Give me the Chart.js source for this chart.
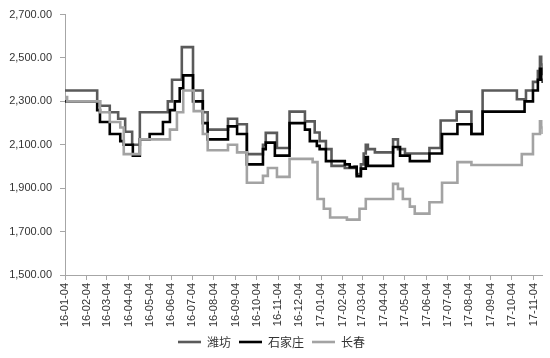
<!DOCTYPE html>
<html><head><meta charset="utf-8">
<script src="https://cdn.jsdelivr.net/npm/chart.js@4.4.1/dist/chart.umd.min.js"></script>
<style>html,body{margin:0;padding:0;background:#fff;}</style>
</head><body>
<canvas id="c" width="550" height="358" style="display:block;width:550px;height:358px"></canvas>
<script>
const seriesNames = ['潍坊', '石家庄', '长春'];
const seriesColors = ['#5a5a5a', '#000000', '#a3a3a3'];
const xTickLabels = ['16-01-04','16-02-04','16-03-04','16-04-04','16-05-04','16-06-04','16-07-04','16-08-04','16-09-04','16-10-04','16-11-04','16-12-04','17-01-04','17-02-04','17-03-04','17-04-04','17-05-04','17-06-04','17-07-04','17-08-04','17-09-04','17-10-04','17-11-04'];
const yTickValues = [1500, 1700, 1900, 2100, 2300, 2500, 2700];
const yTickLabels = ['1,500.00','1,700.00','1,900.00','2,100.00','2,300.00','2,500.00','2,700.00'];
const startDate = '2016-01-04';
const endDate = '2017-11-17';

const wfDates = ['2016-01-04','2016-02-19','2016-02-23','2016-03-08','2016-03-20','2016-03-30','2016-04-09','2016-04-20','2016-05-30','2016-06-05','2016-06-19','2016-07-05','2016-07-19','2016-07-26','2016-08-24','2016-09-06','2016-09-20','2016-10-13','2016-10-17','2016-11-02','2016-11-20','2016-12-12','2016-12-26','2017-01-02','2017-01-11','2017-01-19','2017-02-07','2017-02-21','2017-02-24','2017-03-02','2017-03-06','2017-03-09','2017-03-12','2017-03-22','2017-04-17','2017-04-24','2017-05-04','2017-06-08','2017-06-24','2017-07-17','2017-08-07','2017-08-23','2017-10-11','2017-10-24','2017-11-03','2017-11-10','2017-11-13','2017-11-15','2017-11-17'];
const wfValues = [2350,2300,2280,2250,2220,2160,2100,2250,2300,2400,2550,2350,2250,2170,2220,2195,2057,2100,2155,2085,2253,2208,2157,2117,2080,2003,1993,2000,1965,2010,2060,2100,2080,2065,2125,2080,2060,2085,2212,2253,2150,2350,2310,2350,2390,2440,2505,2470,2420];

const sjzDates = ['2016-01-04','2016-02-19','2016-02-23','2016-03-08','2016-03-23','2016-03-28','2016-04-10','2016-04-20','2016-05-04','2016-05-23','2016-06-02','2016-06-09','2016-06-16','2016-06-21','2016-07-05','2016-07-19','2016-07-26','2016-08-24','2016-09-06','2016-09-20','2016-10-13','2016-10-17','2016-10-30','2016-11-20','2016-12-12','2016-12-19','2016-12-29','2017-01-02','2017-01-11','2017-02-07','2017-02-14','2017-02-24','2017-03-02','2017-03-09','2017-03-12','2017-04-17','2017-04-27','2017-05-11','2017-06-08','2017-06-26','2017-07-18','2017-08-07','2017-08-23','2017-10-22','2017-11-03','2017-11-10','2017-11-13','2017-11-15','2017-11-17'];
const sjzValues = [2300,2260,2205,2150,2117,2100,2050,2125,2150,2205,2260,2300,2360,2420,2300,2200,2125,2185,2150,2010,2080,2110,2050,2200,2170,2117,2095,2080,2025,2010,1997,1955,1990,2043,2003,2090,2050,2025,2060,2150,2195,2150,2253,2300,2350,2400,2450,2400,2385];

const ccDates = ['2016-01-04','2016-01-07','2016-02-23','2016-03-08','2016-03-23','2016-03-28','2016-04-20','2016-06-02','2016-06-12','2016-06-21','2016-07-06','2016-07-19','2016-07-26','2016-08-24','2016-09-06','2016-09-20','2016-10-13','2016-10-20','2016-11-02','2016-11-20','2016-12-23','2016-12-30','2017-01-08','2017-01-17','2017-02-10','2017-02-28','2017-03-09','2017-04-17','2017-04-24','2017-05-01','2017-05-11','2017-05-18','2017-06-08','2017-06-26','2017-07-18','2017-08-07','2017-10-18','2017-11-03','2017-11-13','2017-11-15','2017-11-17'];
const ccValues = [2320,2300,2250,2205,2180,2057,2125,2170,2250,2350,2255,2150,2075,2100,2065,1925,1957,1993,1952,2035,2020,1850,1805,1765,1755,1805,1850,1920,1897,1850,1815,1783,1835,1925,2020,2007,2057,2150,2208,2180,2150];

function utc(s) { const p = s.split('-').map(Number); return Date.UTC(p[0], p[1] - 1, p[2]); }
const START = utc(startDate);
function dayOf(s) { return Math.round((utc(s) - START) / 86400000); }
function tickDay(lbl) { return dayOf('20' + lbl); }
function pts(dates, values) { return dates.map((d, i) => ({ x: dayOf(d), y: values[i] })); }

const allDates = [wfDates, sjzDates, ccDates];
const allValues = [wfValues, sjzValues, ccValues];
const datasets = seriesNames.map((name, i) => ({
  label: name,
  data: pts(allDates[i], allValues[i]),
  borderColor: seriesColors[i],
  backgroundColor: seriesColors[i],
  borderWidth: 2.6,
  pointRadius: 0,
  stepped: true,
  fill: false,
  order: 3 - i
}));

const axisColor = '#a6a6a6';
const labelFont = { family: '"Liberation Sans", Arial, sans-serif', size: 11 };

new Chart(document.getElementById('c'), {
  type: 'line',
  data: { datasets },
  options: {
    responsive: false,
    animation: false,
    devicePixelRatio: 1,
    layout: { padding: { top: 14, right: 7, left: 0, bottom: 0 } },
    plugins: {
      tooltip: { enabled: false },
      legend: {
        position: 'bottom',
        labels: {
          usePointStyle: true,
          pointStyle: 'line',
          pointStyleWidth: 23,
          padding: 8,
          color: '#333',
          font: { family: '"Noto Sans CJK SC", sans-serif', size: 12 },
          sort: (a, b) => a.datasetIndex - b.datasetIndex
        }
      }
    },
    scales: {
      x: {
        type: 'linear',
        min: 0,
        max: dayOf(endDate),
        afterBuildTicks: s => { s.ticks = xTickLabels.map(l => ({ value: tickDay(l) })); },
        afterFit: s => { s.height = 53; },
        ticks: {
          autoSkip: false, minRotation: 90, maxRotation: 90, padding: 3,
          color: '#333', font: labelFont,
          callback: (v, i) => xTickLabels[i]
        },
        grid: { drawOnChartArea: false, drawTicks: true, tickLength: 5, color: axisColor },
        border: { display: true, color: axisColor, width: 1 }
      },
      y: {
        min: 1500, max: 2700,
        afterBuildTicks: s => { s.ticks = yTickValues.map(v => ({ value: v })); },
        afterFit: s => { s.width = 65; },
        ticks: { padding: 8, color: '#333', font: labelFont, callback: (v, i) => yTickLabels[i] },
        grid: { drawOnChartArea: false, drawTicks: true, tickLength: 5, color: axisColor },
        border: { display: true, color: axisColor, width: 1 }
      }
    }
  }
});
</script>
</body></html>
